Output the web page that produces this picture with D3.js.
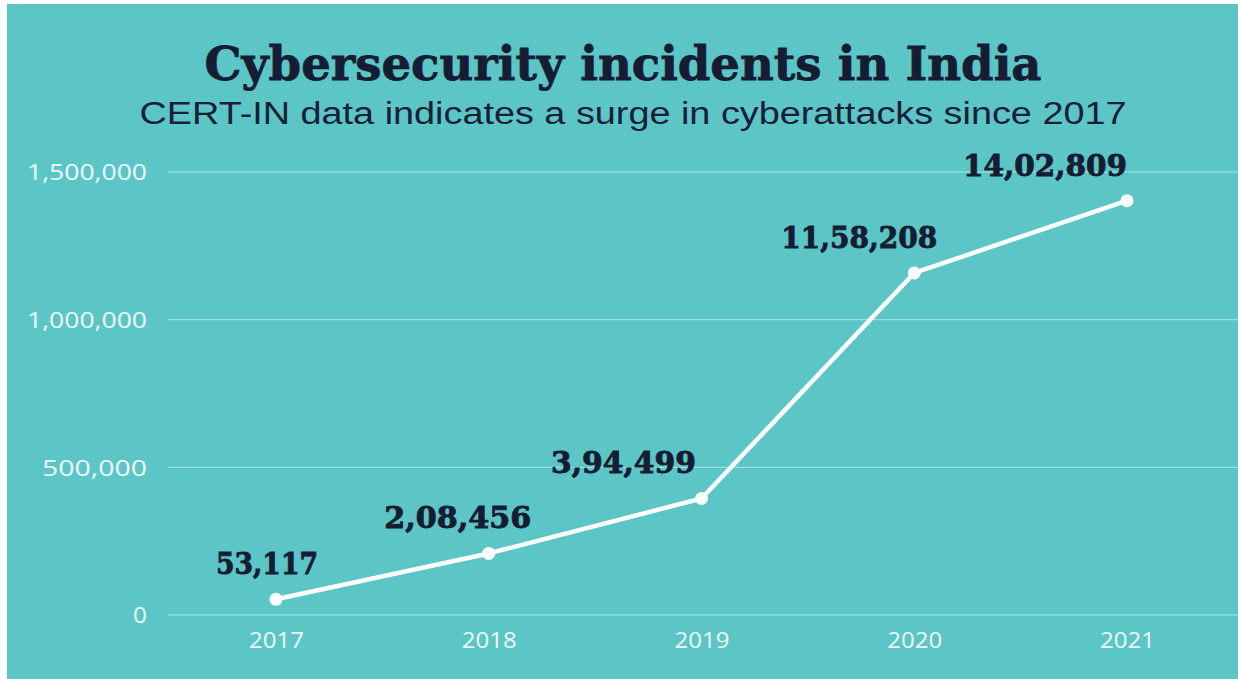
<!DOCTYPE html>
<html><head><meta charset="utf-8">
<script src="https://cdn.jsdelivr.net/npm/d3@7"></script>
<style>
html,body{margin:0;padding:0;background:#fff;}
svg{display:block;}
</style></head>
<body>
<svg id="chart" width="1238" height="679"></svg>
<script>
const years = ["2017","2018","2019","2020","2021"];
const incidents = [53117, 208456, 394499, 1158208, 1402809];
const valueLabels = ["53,117","2,08,456","3,94,499","11,58,208","14,02,809"];
const yTicks = [0, 500000, 1000000, 1500000];
const yTickLabels = ["0","500,000","1,000,000","1,500,000"];
const titleText = "Cybersecurity incidents in India";
const subtitleText = "CERT-IN data indicates a surge in cyberattacks since 2017";
// styling: label offsets and rendered widths
const labelDx = [-9, -31, -78, -55, -82];
const labelWidths = [102, 147, 145, 156, 164];
const yLabelWidths = [14, 105, 120, 120];

const svg = d3.select("#chart");
svg.append("rect").attr("x",7).attr("y",4).attr("width",1231).attr("height",675).attr("fill","#5cc5c6");

svg.append("text").attr("x",623).attr("y",80).attr("text-anchor","middle")
  .attr("font-family","'DejaVu Serif','Liberation Serif',serif").attr("font-weight","bold")
  .attr("font-size",47).attr("fill","#161d33").attr("stroke","#161d33").attr("stroke-width",0.8)
  .attr("textLength",837).attr("lengthAdjust","spacingAndGlyphs").text(titleText);

svg.append("text").attr("x",633).attr("y",124).attr("text-anchor","middle")
  .attr("font-family","'Liberation Sans',Arial,sans-serif")
  .attr("font-size",31).attr("fill","#182035")
  .attr("textLength",987).attr("lengthAdjust","spacingAndGlyphs").text(subtitleText);

const x = d3.scalePoint().domain(years).range([276,1127]);
const y = d3.scaleLinear().domain([0,1500000]).range([615,172]);

const grid = svg.append("g");
grid.selectAll("line").data(yTicks).join("line")
  .attr("x1",168).attr("x2",1238)
  .attr("y1",d=>y(d)).attr("y2",d=>y(d))
  .attr("stroke","#a9e4e4").attr("stroke-width",1);

const yAxis = d3.axisLeft(y).tickValues(yTicks).tickFormat((d,i)=>yTickLabels[i]).tickSize(0).tickPadding(0);
const gy = svg.append("g").attr("transform","translate(147,0)").call(yAxis);
gy.select(".domain").remove();
gy.selectAll("text").attr("font-family","'Open Sans',Lato,sans-serif").attr("font-size",22)
  .attr("fill","#eefafa").attr("dy","0.36em")
  .attr("textLength",(d,i)=>yLabelWidths[i]).attr("lengthAdjust","spacingAndGlyphs");

const xAxis = d3.axisBottom(x).tickSize(0).tickPadding(0);
const gx = svg.append("g").attr("transform","translate(0,648)").call(xAxis);
gx.select(".domain").remove();
gx.selectAll("text").attr("font-family","'Open Sans',Lato,sans-serif").attr("font-size",22)
  .attr("fill","#eefafa").attr("dy","0")
  .attr("textLength",55).attr("lengthAdjust","spacingAndGlyphs");

const data = years.map((yr,i)=>({yr, v:incidents[i], label:valueLabels[i], i}));

svg.append("path").datum(data)
  .attr("d", d3.line().x(d=>x(d.yr)).y(d=>y(d.v)))
  .attr("fill","none").attr("stroke","#ffffff").attr("stroke-width",4.5).attr("stroke-linejoin","round");

svg.selectAll("circle.pt").data(data).join("circle").attr("class","pt")
  .attr("cx",d=>x(d.yr)).attr("cy",d=>y(d.v)).attr("r",6.5).attr("fill","#ffffff");

svg.selectAll("text.lbl").data(data).join("text").attr("class","lbl")
  .attr("x",d=>x(d.yr)+labelDx[d.i]).attr("y",d=>y(d.v)-25)
  .attr("text-anchor","middle")
  .attr("font-family","'DejaVu Serif','Liberation Serif',serif").attr("font-weight","bold")
  .attr("font-size",30).attr("fill","#161d33").attr("stroke","#161d33").attr("stroke-width",0.9)
  .attr("textLength",d=>labelWidths[d.i]).attr("lengthAdjust","spacingAndGlyphs")
  .text(d=>d.label);
</script>
</body></html>
